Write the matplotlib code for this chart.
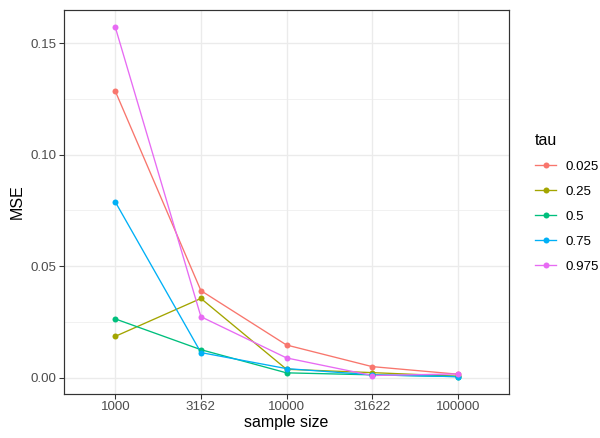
import matplotlib
matplotlib.use("Agg")
import matplotlib.pyplot as plt
from matplotlib.lines import Line2D
from matplotlib.ticker import MultipleLocator
import numpy as np

sizes = ["1000", "3162", "10000", "31622", "100000"]
taus = ["0.025", "0.25", "0.5", "0.75", "0.975"]
colors = ["#F8766D", "#A3A500", "#00BF7D", "#00B0F6", "#E76BF3"]

mse_0025 = [0.1285, 0.0390, 0.0146, 0.0049, 0.0015]
mse_025 = [0.0185, 0.0355, 0.0037, 0.0022, 0.0006]
mse_05 = [0.0263, 0.0125, 0.0021, 0.0012, 0.0004]
mse_075 = [0.0788, 0.0112, 0.0040, 0.0012, 0.0004]
mse_0975 = [0.1572, 0.0273, 0.0088, 0.0009, 0.0016]
series = [mse_0025, mse_025, mse_05, mse_075, mse_0975]

plt.rcParams["font.family"] = ["Liberation Sans", "DejaVu Sans"]

fig = plt.figure(figsize=(6.25, 438 / 96), dpi=96)
ax = fig.add_axes([64 / 600, 1 - 394 / 438, 445 / 600, 384 / 438])

x = np.arange(1, len(sizes) + 1)
for vals, col in zip(series, colors):
    ax.plot(x, vals, "-", color=col, lw=1.0, zorder=3)
    ax.plot(x, vals, "o", color=col, ms=4.5, mec="none", zorder=4)

ax.set_xlim(0.4, 5.6)
ax.set_ylim(-0.0074, 0.1650)
ax.set_xticks(x)
ax.set_xticklabels(sizes)
ax.yaxis.set_major_locator(MultipleLocator(0.05))
ax.yaxis.set_minor_locator(MultipleLocator(0.025))
ax.set_yticks([0.0, 0.05, 0.10, 0.15])
ax.set_yticklabels(["0.00", "0.05", "0.10", "0.15"])

ax.grid(True, which="major", color="#EBEBEB", lw=1.0, zorder=0)
ax.grid(True, which="minor", axis="y", color="#EBEBEB", lw=0.5, zorder=0)
ax.tick_params(which="minor", length=0)
ax.tick_params(which="major", length=3.5, width=0.8, color="#333333",
               labelcolor="#4D4D4D", labelsize=10, pad=2)
for sp in ax.spines.values():
    sp.set_color("#333333")
    sp.set_linewidth(0.9)

ax.set_xlabel("sample size", fontsize=12, labelpad=1)
ax.set_ylabel("MSE", fontsize=12, labelpad=4)

handles = [Line2D([0], [0], color=c, lw=1.0, marker="o", ms=4.5, mec="none")
           for c in colors]
fig.legend(handles, taus, title="tau", loc="upper left",
           bbox_to_anchor=(523 / 600, 1 - 121 / 438), frameon=False,
           fontsize=10, title_fontsize=12, handlelength=1.6,
           handletextpad=0.7, labelspacing=0.95, alignment="left")

fig.savefig("out.png", dpi=96)
